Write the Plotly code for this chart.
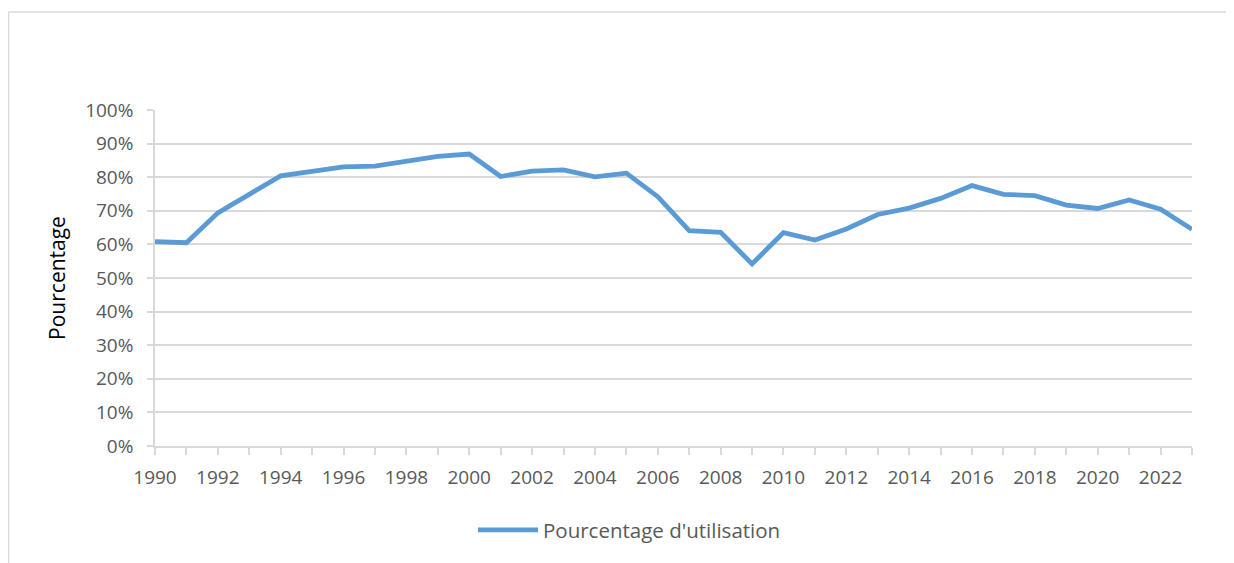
import plotly.graph_objects as go

years = list(range(1990, 2024))
usage_pct = [60.8, 60.5, 69.4, 74.7, 80.4, 81.7, 83.1, 83.3, 84.9, 86.2, 86.9,
             80.2, 81.8, 82.2, 80.1, 81.2, 74.2, 64.1, 63.6, 54.2, 63.5, 61.3,
             64.6, 68.9, 70.8, 73.7, 77.5, 74.9, 74.5, 71.7, 70.7, 73.2, 70.5, 64.5]
series_name = "Pourcentage d'utilisation"
y_title = "Pourcentage"
x_tick_years = list(range(1990, 2024, 2))
y_ticks = [i / 10 for i in range(0, 11)]

# page body has an 8px margin; figure is placed at (8, 8) on the page
OFF = 8
W, H = 1234, 555
L, T = 155 - OFF, 110 - OFF
R = W - (1192 - OFF)
B = H - (446 - OFF)
pw, ph = W - L - R, H - T - B

def px_x(p):  # page pixel -> paper x
    return (p - OFF - L) / pw

def px_y(p):  # page pixel -> paper y
    return (H - B - (p - OFF)) / ph

grey = "#d9d9d9"
txt = "#595959"
font = "Open Sans"

fig = go.Figure()
fig.add_trace(go.Scatter(
    x=years, y=[v / 100 for v in usage_pct], mode="lines", name=series_name,
    line=dict(color="#5B9BD5", width=4.8), showlegend=True,
))

fig.update_layout(
    width=W, height=H,
    margin=dict(l=L, r=R, t=T, b=B),
    paper_bgcolor="white", plot_bgcolor="white",
    font=dict(family=font, size=19, color=txt),
    showlegend=True,
    legend=dict(orientation="h", x=px_x(473), xanchor="left", y=px_y(530), yanchor="middle",
                font=dict(family=font, size=20.5, color=txt), itemwidth=60,
                bgcolor="rgba(0,0,0,0)"),
    xaxis=dict(range=[1990, 2023], tickvals=x_tick_years, ticktext=[str(v) for v in x_tick_years],
               showgrid=False, zeroline=False, showline=True, linecolor=grey, linewidth=1.5,
               ticks="outside", ticklen=7, tickcolor=grey, tickwidth=1.5,
               minor=dict(dtick=1, tick0=1990, ticks="outside", ticklen=7, tickcolor=grey,
                          tickwidth=1.5, showgrid=False),
               ticklabelstandoff=6,
               tickfont=dict(family=font, size=19, color=txt)),
    yaxis=dict(range=[0, 1], tickvals=y_ticks, tickformat=".0%",
               showgrid=True, gridcolor=grey, gridwidth=1.5, zeroline=False,
               showline=True, linecolor=grey, linewidth=1.5,
               ticks="outside", ticklen=6, tickcolor=grey, tickwidth=1.5,
               ticklabelstandoff=10,
               tickfont=dict(family=font, size=19, color=txt),
               title=dict(text=y_title, font=dict(family=font, size=21, color="black"), standoff=14)),
)

# outer chart frame (top and left edges visible in reference)
fig.add_shape(type="line", xref="paper", yref="paper", x0=px_x(8.5), x1=px_x(1250),
              y0=px_y(12), y1=px_y(12), line=dict(color=grey, width=1.5))
fig.add_shape(type="line", xref="paper", yref="paper", x0=px_x(8.5), x1=px_x(8.5),
              y0=px_y(12), y1=px_y(570), line=dict(color=grey, width=1.5))

fig.write_html("out.html")
